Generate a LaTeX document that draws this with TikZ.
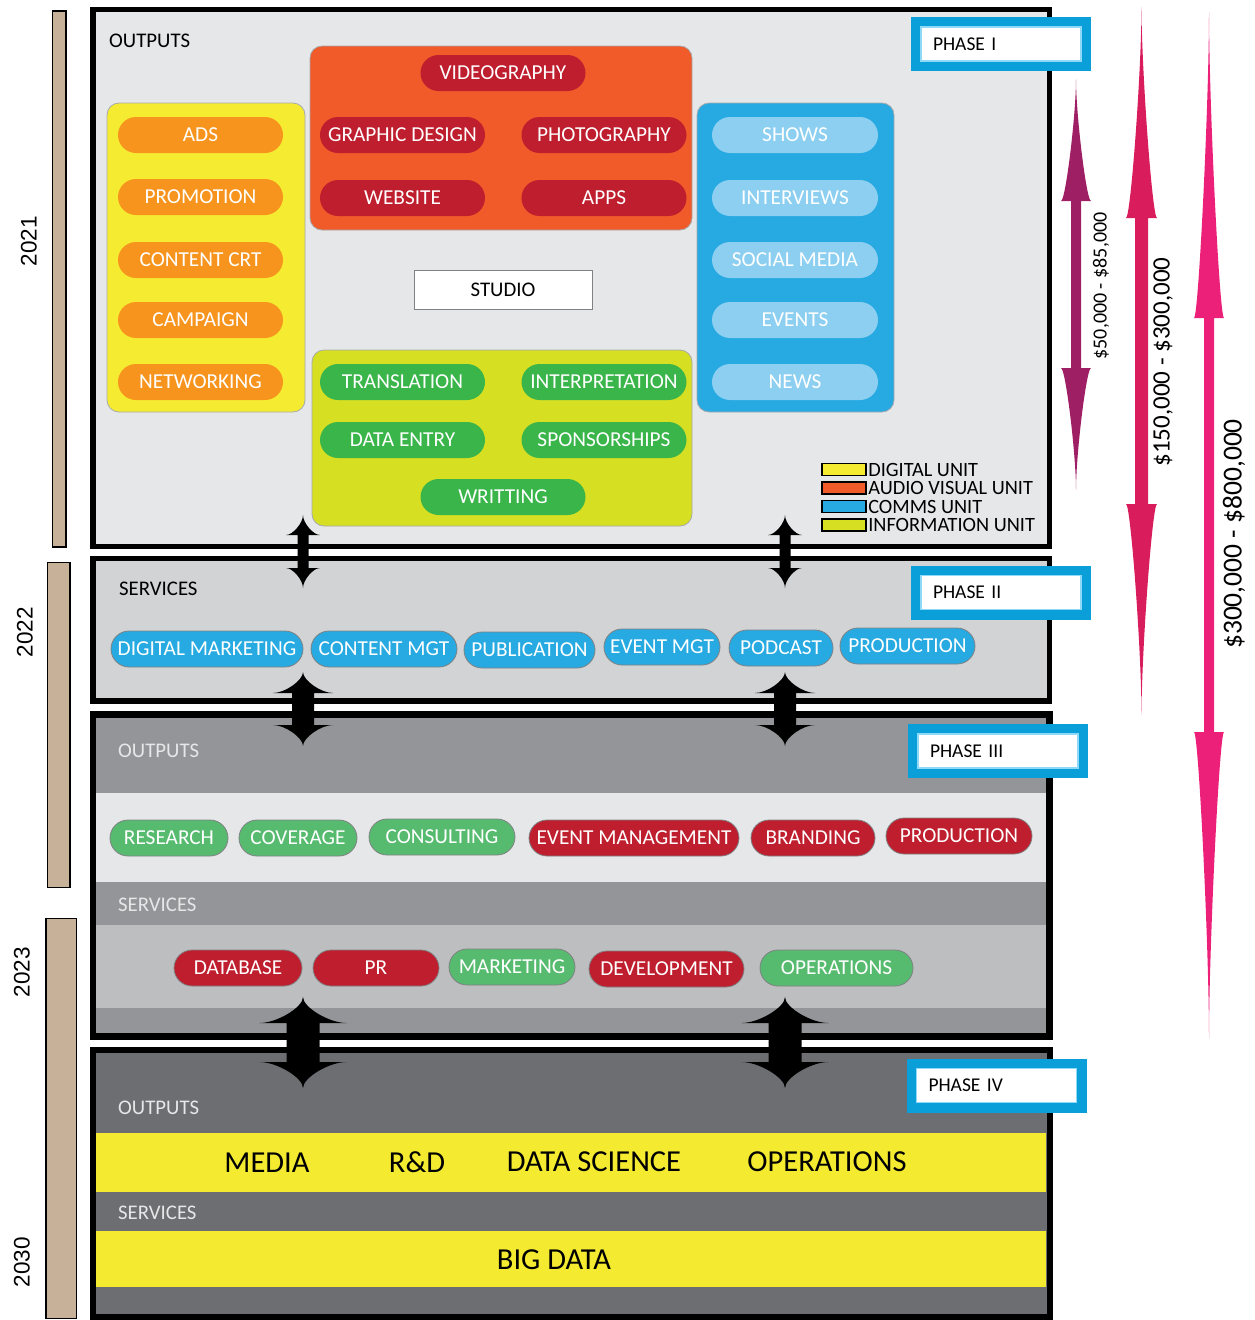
\documentclass[tikz,border=0pt]{standalone}
\usepackage{fontspec}
\setmainfont{Carlito}
\newfontfamily\yearfont{Liberation Sans}
\usetikzlibrary{positioning}

\definecolor{yearbar}{HTML}{C7B299}
\definecolor{lightpanel}{HTML}{E6E7E8}
\definecolor{midpanel}{HTML}{D1D3D4}
\definecolor{greypanel}{HTML}{939598}
\definecolor{servband}{HTML}{BCBEC0}
\definecolor{darkpanel}{HTML}{6D6E71}
\definecolor{bigyellow}{HTML}{F4EB31}
\definecolor{digyellow}{HTML}{F5EC32}
\definecolor{digorange}{HTML}{F7941D}
\definecolor{avorange}{HTML}{F15A29}
\definecolor{avred}{HTML}{BE1E2D}
\definecolor{infolime}{HTML}{D7DF23}
\definecolor{infogreen}{HTML}{39B54A}
\definecolor{commsblue}{HTML}{27AAE1}
\definecolor{commslight}{HTML}{8CCFF0}
\definecolor{softgreen}{HTML}{57BB6F}
\definecolor{pillline}{HTML}{7F8184}
\definecolor{boxline}{HTML}{A7A9AC}
\definecolor{phaseblue}{HTML}{0A9FD8}
\definecolor{phaselight}{HTML}{8ED8F8}
\definecolor{paletext}{HTML}{E6E7E8}
\definecolor{costpurple}{HTML}{9E1F63}
\definecolor{costcrimson}{HTML}{D91C5C}
\definecolor{costpink}{HTML}{EC2079}

% #1 colour, #2 x, #3 top tip, #4 bottom tip, #5 half shaft, #6 half head, #7 head length, #8 bend
\newcommand{\updown}[8]{%
  \fill[#1] ({#2},{#3}) .. controls ({#2},{#3+#8*#7}) and ({#2-(1-#8)*#6},{#3+#7}) .. ({#2-#6},{#3+#7})
    -- ({#2-#5},{#3+#7}) -- ({#2-#5},{#4-#7}) -- ({#2-#6},{#4-#7})
    .. controls ({#2-(1-#8)*#6},{#4-#7}) and ({#2},{#4-#8*#7}) .. ({#2},{#4})
    .. controls ({#2},{#4-#8*#7}) and ({#2+(1-#8)*#6},{#4-#7}) .. ({#2+#6},{#4-#7})
    -- ({#2+#5},{#4-#7}) -- ({#2+#5},{#3+#7}) -- ({#2+#6},{#3+#7})
    .. controls ({#2+(1-#8)*#6},{#3+#7}) and ({#2},{#3+#8*#7}) .. cycle;}

\begin{document}
\begin{tikzpicture}[x=1pt, y=-1pt,
  every node/.style={inner sep=0pt},
  pill/.style={rounded corners=18, minimum height=36, text=white, font=\fontsize{21.3}{24}\selectfont},
  edged/.style={draw=pillline, line width=0.8},
  unitbox/.style={rounded corners=12, draw=boxline, line width=0.8},
  heading/.style={anchor=west, font=\fontsize{20.8}{24}\selectfont},
  phasebox/.style={preaction={draw=phaseblue, line width=20}, fill=white, draw=phaselight, line width=1.5,
    minimum width=160, minimum height=34, inner xsep=12, text width=136, align=left, font=\fontsize{19.5}{22}\selectfont},
  bigtext/.style={font=\fontsize{30.5}{34}\selectfont},
  swatch/.style={draw=black, line width=1.2, minimum width=44, minimum height=12},
  keytext/.style={font=\fontsize{20.3}{21}\selectfont},
  yearlabel/.style={rotate=90, font=\yearfont\fontsize{22.5}{26}\selectfont},
  costlabel/.style={rotate=90}]

\useasboundingbox (0,0) rectangle (1255,1320);

% years
\draw[fill=yearbar, line width=1.5] (52.5,11) rectangle (66,547);
\draw[fill=yearbar, line width=1.5] (47.5,562.5) rectangle (70,887.5);
\draw[fill=yearbar, line width=1.5] (46,918.5) rectangle (76.5,1318.5);
\node[yearlabel] (y1) at (29,241) {2021};
\node[yearlabel] (y2) at (25,632) {2022};
\node[yearlabel] (y3) at (22,972) {2023};
\node[yearlabel] (y4) at (22,1262) {2030};

% panels
\draw[line width=5.5, fill=lightpanel] (93,9.5) rectangle (1049.5,546.5);
\draw[line width=5.5, fill=midpanel] (93,558.5) rectangle (1049.5,701);
\fill[greypanel] (93,714.5) rectangle (1049.5,1036.5);
\fill[lightpanel] (96,793) rectangle (1046,882);
\fill[servband] (96,925) rectangle (1046,1008);
\draw[line width=6.5] (93,714.5) rectangle (1049.5,1036.5);
\fill[darkpanel] (93,1050) rectangle (1049.5,1317);
\fill[bigyellow] (96,1133) rectangle (1046,1192);
\fill[bigyellow] (96,1231) rectangle (1046,1287);
\draw[line width=6] (93,1050) rectangle (1049.5,1317);

% phase I
\node[heading] (out1) at (109,41) {OUTPUTS};
\node[unitbox, fill=digyellow, minimum width=198, minimum height=309] (digital) at (206,257.5) {};
\node[unitbox, fill=avorange, minimum width=382, minimum height=184] (av) at (501,138) {};
\node[unitbox, fill=infolime, minimum width=380, minimum height=176] (info) at (502,438) {};
\node[unitbox, fill=commsblue, minimum width=197, minimum height=309] (comms) at (795.5,257.5) {};
\node[draw=pillline, fill=white, line width=1, minimum width=178, minimum height=39, font=\fontsize{20.8}{24}\selectfont] (studio) at (503,289.5) {STUDIO};

\foreach \txt/\yy [count=\i] in {ADS/135, PROMOTION/197, CONTENT CRT/260, CAMPAIGN/320, NETWORKING/382}
  \node[pill, fill=digorange, minimum width=165] (dig\i) at (200.5,\yy) {\txt};
\foreach \txt/\xx/\yy [count=\i] in {VIDEOGRAPHY/503/73, GRAPHIC DESIGN/402.5/135, PHOTOGRAPHY/604/135, WEBSITE/402.5/198, APPS/604/198}
  \node[pill, fill=avred, minimum width=165] (vis\i) at (\xx,\yy) {\txt};
\foreach \txt/\xx/\yy [count=\i] in {TRANSLATION/402.5/382, INTERPRETATION/604/382, DATA ENTRY/402.5/440, SPONSORSHIPS/604/440, WRITTING/503/497}
  \node[pill, fill=infogreen, minimum width=165] (inf\i) at (\xx,\yy) {\txt};
\foreach \txt/\yy [count=\i] in {SHOWS/135, INTERVIEWS/198, SOCIAL MEDIA/260, EVENTS/320, NEWS/382}
  \node[pill, fill=commslight, minimum width=166] (com\i) at (795,\yy) {\txt};

\foreach \cc/\txt [count=\i] in {digyellow/DIGITAL UNIT, avorange/AUDIO VISUAL UNIT, commsblue/COMMS UNIT, infolime/INFORMATION UNIT} {
  \node[swatch, fill=\cc] (sw\i) at (844,451+18.5*\i) {};
  \node[keytext, right=1.5pt of sw\i] (key\i) {\txt};
}

% phase II
\node[heading] (serv2) at (119,589) {SERVICES};
\foreach \txt/\xx/\ww/\yy [count=\i] in {DIGITAL MARKETING/207/192/649, CONTENT MGT/384/146/649, PUBLICATION/529.5/131/650,
    EVENT MGT/662/116/647, PODCAST/781/104/648, PRODUCTION/907.5/135/646}
  \node[pill, edged, fill=commsblue, minimum width=\ww] (srv\i) at (\xx,\yy) {\txt};

% phase III
\node[heading, text=paletext] (out3) at (118,751) {OUTPUTS};
\node[heading, text=paletext] (serv3) at (118,905) {SERVICES};
\foreach \txt/\xx/\ww/\yy/\cc [count=\i] in {RESEARCH/169/118/838/softgreen, COVERAGE/298/118/838/softgreen,
    CONSULTING/442/146/837/softgreen, EVENT MANAGEMENT/634/210/838/avred, BRANDING/813/124/838/avred,
    PRODUCTION/959/146/836/avred}
  \node[pill, edged, fill=\cc, minimum width=\ww] (op\i) at (\xx,\yy) {\txt};
\foreach \txt/\xx/\ww/\yy/\cc [count=\i] in {DATABASE/238/128/968/avred, PR/376/126/968/avred,
    MARKETING/512/126/967/softgreen, DEVELOPMENT/666.5/155/969/avred, OPERATIONS/836.5/153/968/softgreen}
  \node[pill, edged, fill=\cc, minimum width=\ww] (sp\i) at (\xx,\yy) {\txt};

% phase IV
\node[heading, text=paletext] (out4) at (118,1108) {OUTPUTS};
\node[heading, text=paletext] (serv4) at (118,1213) {SERVICES};
\node[bigtext] (media) at (267,1163) {MEDIA};
\node[bigtext] (rnd) at (417,1162) {R\&D};
\node[bigtext] (datasci) at (594,1162) {DATA SCIENCE};
\node[bigtext] (ops) at (827,1162) {OPERATIONS};
\node[bigtext] (bigdata) at (554,1260) {BIG DATA};

% phase tags
\node[phasebox] (ph1) at (1001,44) {PHASE I};
\node[phasebox] (ph2) at (1001,592.5) {PHASE II};
\node[phasebox] (ph3) at (998,751) {PHASE III};
\node[phasebox] (ph4) at (996.5,1085.5) {PHASE IV};

% links between phases
\foreach \xx in {303,785} {
  \updown{black}{\xx}{515}{588}{5.5}{17}{20}{0.4}
  \updown{black}{\xx}{672}{746}{11}{30}{21}{0.4}
  \updown{black}{\xx}{997}{1088}{16.5}{43.5}{26}{0.4}
}

% budgets
\updown{costpurple}{1076}{79}{490}{5}{15}{122}{0.3}
\updown{costcrimson}{1141.5}{7}{715}{6.5}{15.5}{211}{0.3}
\updown{costpink}{1209}{12}{1038}{5}{15}{306}{0.3}
\node[costlabel, font=\fontsize{20}{24}\selectfont] (cost1) at (1101,286) {\$50,000 - \$85,000};
\node[costlabel, font=\fontsize{25}{30}\selectfont] (cost2) at (1163,362) {\$150,000 - \$300,000};
\node[costlabel, font=\fontsize{27.5}{32}\selectfont] (cost3) at (1234,534) {\$300,000 - \$800,000};
\end{tikzpicture}
\end{document}
